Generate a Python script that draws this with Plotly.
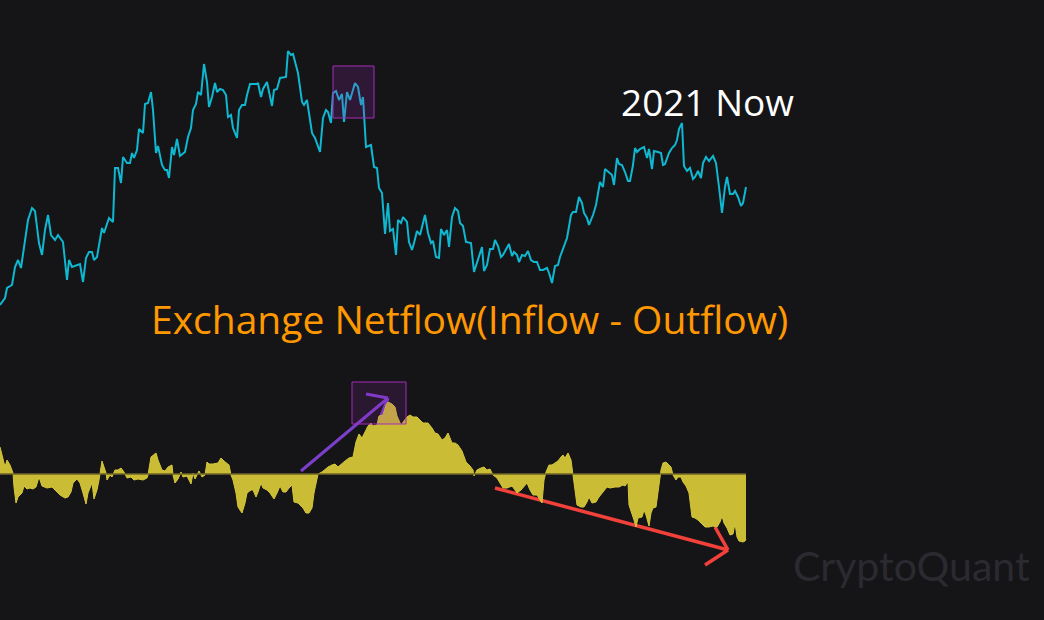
import plotly.graph_objects as go

# ---------------- data ----------------
price_day = [0, 5, 7, 12, 15, 18, 21, 23, 28, 32, 35, 39, 42, 45, 48, 51, 55, 58, 63, 67,
             69, 72, 80, 83, 86, 89, 92, 94, 97, 102, 104, 109, 113, 115, 118, 121, 123, 127, 130, 132,
             134, 137, 139, 143, 145, 148, 151, 153, 156, 158, 162, 165, 167, 169, 172, 174, 177, 180, 185, 188,
             191, 193, 196, 198, 201, 204, 207, 209, 212, 215, 217, 220, 223, 226, 228, 231, 233, 237, 239, 242,
             245, 247, 250, 257, 258, 261, 263, 267, 269, 272, 274, 277, 280, 284, 286, 288, 291, 293, 298, 302,
             304, 307, 310, 312, 315, 320, 323, 326, 328, 331, 333, 336, 339, 342, 344, 347, 350, 355, 358, 361,
             363, 366, 371, 374, 377, 379, 382, 385, 388, 390, 393, 396, 398, 401, 403, 407, 409, 412, 414, 417,
             420, 425, 428, 431, 433, 436, 439, 441, 444, 447, 449, 452, 455, 458, 460, 463, 466, 471, 474, 478,
             482, 484, 487, 490, 493, 495, 498, 501, 503, 509, 512, 514, 517, 519, 522, 525, 528, 531, 534, 537,
             540, 543, 547, 549, 552, 555, 558, 560, 563, 567, 571, 573, 576, 579, 582, 584, 587, 589, 593, 596,
             600, 603, 605, 609, 612, 614, 617, 619, 622, 625, 628, 630, 633, 635, 637, 640, 644, 647, 649, 652,
             654, 658, 661, 663, 665, 669, 672, 675, 677, 679, 682, 684, 687, 690, 693, 695, 698, 701, 703, 706,
             709, 713, 716, 719, 722, 725, 727, 730, 733, 735, 738, 741, 743, 746]
price_usd = [31500, 32200, 33200, 33500, 35300, 36000, 35200, 36700, 40000, 41200, 40900, 37700, 36500, 39000, 40500, 38500, 38000, 38500, 37800, 34000,
             36000, 35300, 35600, 33800, 36200, 36800, 36800, 36000, 36300, 39200, 38700, 40200, 39800, 45200, 45200, 43700, 46300, 45700, 45700, 46700,
             46200, 47000, 49100, 48700, 51600, 51700, 52800, 51000, 46700, 47400, 45500, 45000, 45000, 44200, 47300, 46500, 48100, 46400, 46800, 48300,
             49200, 51000, 51600, 52800, 52500, 55600, 53800, 51300, 52300, 53700, 52800, 53100, 53000, 52500, 50300, 50500, 49200, 48200, 51000, 51500,
             51500, 52500, 53600, 53600, 53700, 52300, 53100, 53800, 52800, 51400, 53000, 53100, 54200, 54300, 54300, 56900, 56500, 56600, 54700, 51800,
             51500, 52000, 50000, 48700, 48200, 46800, 50200, 51000, 50800, 49700, 52700, 52900, 52000, 52600, 49800, 52800, 52000, 53700, 53300, 51500,
             52300, 47300, 47500, 45300, 45200, 43200, 42700, 38600, 41700, 38900, 39100, 36500, 40000, 39700, 40300, 39800, 37800, 37000, 37700, 38900,
             38500, 40500, 38700, 37700, 37900, 36300, 36200, 39100, 38500, 39000, 37300, 40300, 41200, 40900, 39700, 39400, 37800, 37700, 34800, 36000,
             37300, 34900, 35500, 37100, 37100, 38000, 37400, 36300, 36500, 37600, 36400, 36800, 36500, 35800, 36500, 36400, 36900, 36000, 35800, 35800,
             35000, 35000, 35200, 34700, 33700, 35400, 35500, 36300, 37100, 38200, 40500, 40800, 40800, 42300, 41700, 40700, 40200, 39500, 40500, 41500,
             43800, 43300, 45100, 44700, 44500, 43500, 46200, 45600, 45500, 44800, 43900, 43900, 45500, 47200, 46800, 47100, 47300, 46200, 47100, 45100,
             46900, 46800, 46700, 45500, 45600, 46700, 47200, 47500, 48000, 49100, 49700, 45400, 44900, 45200, 44100, 44300, 44900, 44200, 45700, 46300,
             45900, 46400, 45700, 43300, 40700, 43300, 44300, 42600, 42600, 42900, 42300, 41400, 41700, 43300]

flow_day = [0, 3, 5, 7, 10, 13, 14, 16, 18, 22, 24, 27, 30, 33, 36, 39, 42, 47, 52, 55,
            60, 65, 68, 71, 73, 77, 80, 83, 86, 88, 92, 94, 97, 99, 102, 104, 106, 107, 110, 112,
            115, 118, 121, 124, 127, 131, 134, 138, 143, 147, 148, 151, 156, 158, 162, 165, 168, 172, 173, 175,
            178, 181, 183, 187, 191, 193, 195, 199, 202, 205, 207, 209, 213, 218, 221, 224, 227, 229, 231, 233,
            236, 238, 242, 245, 247, 251, 253, 256, 258, 261, 263, 267, 270, 274, 277, 280, 283, 286, 289, 292,
            294, 298, 303, 306, 309, 312, 314, 317, 318, 322, 325, 328, 332, 335, 338, 342, 345, 349, 353, 356,
            359, 362, 365, 368, 371, 373, 377, 379, 383, 386, 388, 392, 395, 397, 401, 403, 407, 410, 413, 417,
            419, 423, 428, 432, 435, 438, 442, 445, 448, 452, 455, 458, 462, 466, 470, 473, 474, 477, 481, 484,
            487, 490, 493, 497, 500, 503, 507, 512, 515, 517, 521, 524, 527, 530, 533, 537, 540, 542, 544, 546,
            549, 552, 555, 558, 561, 563, 565, 568, 571, 573, 575, 577, 581, 584, 587, 589, 592, 596, 599, 603,
            607, 610, 615, 619, 623, 625, 628, 629, 632, 634, 636, 638, 642, 644, 646, 649, 651, 653, 656, 658,
            661, 663, 666, 668, 671, 673, 676, 678, 681, 683, 686, 689, 692, 695, 698, 702, 705, 709, 713, 717,
            720, 722, 724, 727, 730, 733, 735, 737, 739, 743, 745, 746]
flow_btc = [2700, 1600, 700, 1400, 900, 100, -1300, -2900, -2300, -1900, -1200, -1500, -1400, -1500, -1300, -300, -1200, -1400, -1300, -1600,
            -2100, -2400, -2300, -1800, -900, -500, -900, -1900, -3000, -1900, -900, -2500, -1600, -600, 1300, 700, 100, -600, -100, -300,
            400, 400, 600, 200, -400, -300, -600, -500, -600, -400, -100, 1700, 2100, 1400, 400, 300, 700, 900, -100, -900,
            -500, 200, -300, -200, -1000, 100, -500, 300, -300, -100, 1200, 1000, 1000, 1100, 1600, 1300, 1100, 900, -100, -600,
            -1900, -3300, -3900, -2900, -1900, -1600, -1600, -2300, -1800, -900, -1400, -1600, -1900, -2500, -1900, -1200, -1800, -1800, -1400, -1100,
            -2800, -2900, -3400, -3900, -3900, -3400, -1900, -300, 0, 200, 500, 700, 900, 1000, 700, 1100, 1300, 1600, 1700, 3200,
            4000, 3600, 4200, 4800, 5100, 4800, 4900, 5800, 5900, 6900, 7200, 7000, 6700, 5800, 4900, 5200, 5700, 5900, 5700, 5700,
            5500, 5100, 5100, 4600, 4100, 4000, 3400, 3600, 4100, 3100, 3100, 2900, 2300, 1200, 800, 400, -200, 400, 600, 700,
            400, 500, -100, -400, -900, -1400, -1400, -1200, -1600, -1900, -1600, -1300, -900, -1600, -2100, -2100, -2600, -2900, -600, 200,
            900, 900, 1100, 1300, 1700, 1900, 1600, 2100, 1400, -100, -1900, -3100, -3300, -3300, -2800, -2300, -2900, -2800, -2300, -1800,
            -1300, -1400, -1300, -1300, -1100, -1200, -800, -3100, -3900, -4600, -5300, -4400, -4300, -3600, -4100, -5200, -3900, -3400, -3300, -1600,
            400, 1100, 1200, 1000, 700, -100, -600, -300, -300, -800, -1200, -1900, -4300, -4400, -4600, -5000, -5300, -5300, -5200, -5300,
            -4800, -4200, -4900, -5400, -6100, -6000, -4900, -6300, -6700, -6800, -6700, -6500]

title_text = "2021 Now"
flow_label = "Exchange Netflow(Inflow - Outflow)"
watermark = "CryptoQuant"

BG = "#151518"

fig = go.Figure()
fig.add_trace(go.Scatter(x=flow_day, y=flow_btc, yaxis="y2", mode="lines", fill="tozeroy",
                         line=dict(color="#d4c63a", width=1), fillcolor="#cbbc35",
                         hoverinfo="skip", showlegend=False))
fig.add_trace(go.Scatter(x=price_day, y=price_usd, yaxis="y", mode="lines",
                         line=dict(color="#0fb8d0", width=2), hoverinfo="skip", showlegend=False))

shapes = []
# baseline of netflow
shapes.append(dict(type="line", xref="x", yref="y2", x0=0, x1=746, y0=0, y1=0,
                   line=dict(color="#6e6628", width=1.5), layer="above"))
# purple highlight boxes
shapes.append(dict(type="rect", xref="x", yref="y", x0=333, x1=374, y0=50200, y1=55400,
                   fillcolor="rgba(156,39,176,0.2)", line=dict(color="#a22cb8", width=1), layer="above"))
shapes.append(dict(type="rect", xref="x", yref="y2", x0=352, x1=406, y0=5000, y1=9200,
                   fillcolor="rgba(156,39,176,0.16)", line=dict(color="#a22cb8", width=1), layer="above"))
# purple arrow (under the area)
pc = "#7b3fcc"
for (a, b, c, d) in [(301, 300, 388, 7600), (388, 7600, 366, 8000), (388, 7600, 379, 5300)]:
    shapes.append(dict(type="line", xref="x", yref="y2", x0=a, y0=b, x1=c, y1=d,
                       line=dict(color=pc, width=3), layer="below"))
# red arrow (under the area)
rc = "#f2413a"
for (a, b, c, d) in [(495, -1400, 728, -7600), (728, -7600, 715, -5300), (728, -7600, 705, -9100)]:
    shapes.append(dict(type="line", xref="x", yref="y2", x0=a, y0=b, x1=c, y1=d,
                       line=dict(color=rc, width=3.5), layer="below"))

annotations = [
    dict(text=title_text, xref="x", yref="y", x=619, y=(620 - 101) * 100, xanchor="left", yanchor="middle",
         showarrow=False, font=dict(family="Open Sans", size=37, color="#ffffff")),
    dict(text=flow_label, xref="x", yref="y", x=149, y=(620 - 318) * 100, xanchor="left", yanchor="middle",
         showarrow=False, font=dict(family="Open Sans", size=39, color="#ff9800")),
    dict(text=watermark, xref="x", yref="y", x=791, y=(620 - 565) * 100, xanchor="left", yanchor="middle",
         showarrow=False, font=dict(family="Lato", size=41, color="#2a2a30")),
]

fig.update_layout(
    width=1044, height=620,
    margin=dict(l=0, r=0, t=0, b=0),
    paper_bgcolor=BG, plot_bgcolor=BG,
    xaxis=dict(range=[0, 1044], visible=False, fixedrange=True),
    yaxis=dict(range=[0, 62000], visible=False, fixedrange=True),
    yaxis2=dict(range=[-14600, 47400], visible=False, overlaying="y", fixedrange=True),
    shapes=shapes, annotations=annotations,
    showlegend=False,
)

fig.write_html("out.html", config={"displayModeBar": False},
               post_script="document.body.style.margin='0';document.body.style.background='#151518';document.body.style.overflow='hidden';")
